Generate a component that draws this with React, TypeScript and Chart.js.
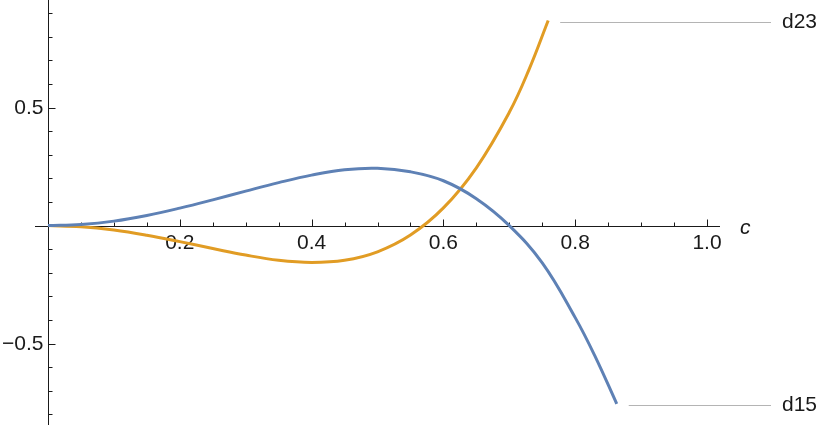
import React, { useEffect, useRef } from "react";
import { Chart, registerables } from "chart.js";

Chart.register(...registerables);

// ---- data ----
const d15C = [0, 0.05, 0.1, 0.15, 0.2, 0.25, 0.3, 0.35, 0.4, 0.45, 0.5, 0.55, 0.6, 0.65, 0.7, 0.75, 0.8, 0.83, 0.863];
const d15Values = [0, 0.005, 0.019, 0.043, 0.074, 0.109, 0.146, 0.182, 0.214, 0.237, 0.243, 0.228, 0.19, 0.114, 0.0, -0.158, -0.39, -0.553, -0.755];

const d23C = [0, 0.05, 0.1, 0.15, 0.2, 0.25, 0.3, 0.35, 0.4, 0.45, 0.5, 0.55, 0.6, 0.65, 0.7, 0.73, 0.759];
const d23Values = [0, -0.005, -0.019, -0.041, -0.068, -0.097, -0.125, -0.147, -0.156, -0.147, -0.111, -0.04, 0.075, 0.245, 0.48, 0.662, 0.869];

const seriesNames = ["d15", "d23"];
const seriesColors = ["#5E81B5", "#E19C24"];
const xAxisLabel = "c";

const xMajorTicks = [0.2, 0.4, 0.6, 0.8, 1.0];
const xTickLabels = ["0.2", "0.4", "0.6", "0.8", "1.0"];
const xMinorTicks = [0.05, 0.1, 0.15, 0.25, 0.3, 0.35, 0.45, 0.5, 0.55, 0.65, 0.7, 0.75, 0.85, 0.9, 0.95];
const yMajorTicks = [0.5, -0.5];
const yTickLabels = ["0.5", "\u22120.5"];
const yMinorTicks = [0.9, 0.8, 0.7, 0.6, 0.4, 0.3, 0.2, 0.1, -0.1, -0.2, -0.3, -0.4, -0.6, -0.7, -0.8];

const FONT = '"Liberation Sans", Arial, Helvetica, sans-serif';

const axesPlugin = {
  id: "mmaAxes",
  beforeDatasetsDraw(chart: any) {
    const { ctx, chartArea, scales } = chart;
    const xs = scales.x;
    const ys = scales.y;
    const px0 = Math.round(xs.getPixelForValue(0)) + 0.5;
    const py0 = Math.round(ys.getPixelForValue(0)) + 0.5;
    ctx.save();
    ctx.strokeStyle = "#1a1a1a";
    ctx.lineWidth = 1;
    ctx.beginPath();
    ctx.moveTo(chartArea.left, py0);
    ctx.lineTo(chartArea.right, py0);
    ctx.moveTo(px0, chartArea.top);
    ctx.lineTo(px0, chartArea.bottom);
    xMajorTicks.forEach((v) => {
      const p = Math.round(xs.getPixelForValue(v)) + 0.5;
      ctx.moveTo(p, py0);
      ctx.lineTo(p, py0 - 7);
    });
    xMinorTicks.forEach((v) => {
      const p = Math.round(xs.getPixelForValue(v)) + 0.5;
      ctx.moveTo(p, py0);
      ctx.lineTo(p, py0 - 4);
    });
    yMajorTicks.forEach((v) => {
      const p = Math.round(ys.getPixelForValue(v)) + 0.5;
      ctx.moveTo(px0, p);
      ctx.lineTo(px0 + 7, p);
    });
    yMinorTicks.forEach((v) => {
      const p = Math.round(ys.getPixelForValue(v)) + 0.5;
      ctx.moveTo(px0, p);
      ctx.lineTo(px0 + 4, p);
    });
    ctx.stroke();

    ctx.fillStyle = "#1a1a1a";
    ctx.font = `21px ${FONT}`;
    ctx.textAlign = "center";
    ctx.textBaseline = "middle";
    xMajorTicks.forEach((v, i) => {
      ctx.fillText(xTickLabels[i], xs.getPixelForValue(v), py0 + 17);
    });
    ctx.textAlign = "right";
    yMajorTicks.forEach((v, i) => {
      ctx.fillText(yTickLabels[i], px0 - 5, ys.getPixelForValue(v) + 1);
    });
    ctx.font = `italic 21px ${FONT}`;
    ctx.textAlign = "left";
    ctx.textBaseline = "alphabetic";
    ctx.fillText(xAxisLabel, chartArea.right + 20, py0 + 7);
    ctx.restore();
  },
  afterDatasetsDraw(chart: any) {
    const { ctx, scales } = chart;
    const xs = scales.x;
    const ys = scales.y;
    const ends = [
      { c: d15C[d15C.length - 1], v: d15Values[d15Values.length - 1], name: seriesNames[0] },
      { c: d23C[d23C.length - 1], v: d23Values[d23Values.length - 1], name: seriesNames[1] },
    ];
    ctx.save();
    ends.forEach((e) => {
      const ex = xs.getPixelForValue(e.c);
      const ey = Math.round(ys.getPixelForValue(e.v)) + 1.5;
      ctx.strokeStyle = "#b4b4b4";
      ctx.lineWidth = 1;
      ctx.beginPath();
      ctx.moveTo(ex + 12, ey);
      ctx.lineTo(771, ey);
      ctx.stroke();
      ctx.fillStyle = "#1a1a1a";
      ctx.font = `21px ${FONT}`;
      ctx.textAlign = "left";
      ctx.textBaseline = "middle";
      ctx.fillText(e.name, 782, ey);
    });
    ctx.restore();
  },
};

export default function App() {
  const canvasRef = useRef<HTMLCanvasElement | null>(null);

  useEffect(() => {
    const canvas = canvasRef.current;
    if (!canvas) return;
    const chart = new Chart(canvas, {
      type: "line",
      data: {
        datasets: [
          {
            label: seriesNames[0],
            data: d15C.map((c, i) => ({ x: c, y: d15Values[i] })),
            borderColor: seriesColors[0],
            borderWidth: 3,
            pointRadius: 0,
            tension: 0.4,
            fill: false,
          },
          {
            label: seriesNames[1],
            data: d23C.map((c, i) => ({ x: c, y: d23Values[i] })),
            borderColor: seriesColors[1],
            borderWidth: 3,
            pointRadius: 0,
            tension: 0.4,
            fill: false,
          },
        ],
      },
      options: {
        animation: false,
        responsive: false,
        devicePixelRatio: 1,
        layout: { padding: { left: 35, right: 110, top: 0, bottom: 2 } },
        plugins: {
          legend: { display: false },
          tooltip: { enabled: false },
        },
        scales: {
          x: { type: "linear", min: -0.0197, max: 1.0197, display: false },
          y: { type: "linear", min: -0.845, max: 0.956, display: false },
        },
      },
      plugins: [axesPlugin],
    });
    return () => chart.destroy();
  }, []);

  return (
    <div style={{ position: "absolute", left: 0, top: 0, width: 830, height: 427, background: "#fff" }}>
      <canvas ref={canvasRef} width={830} height={427} />
    </div>
  );
}
